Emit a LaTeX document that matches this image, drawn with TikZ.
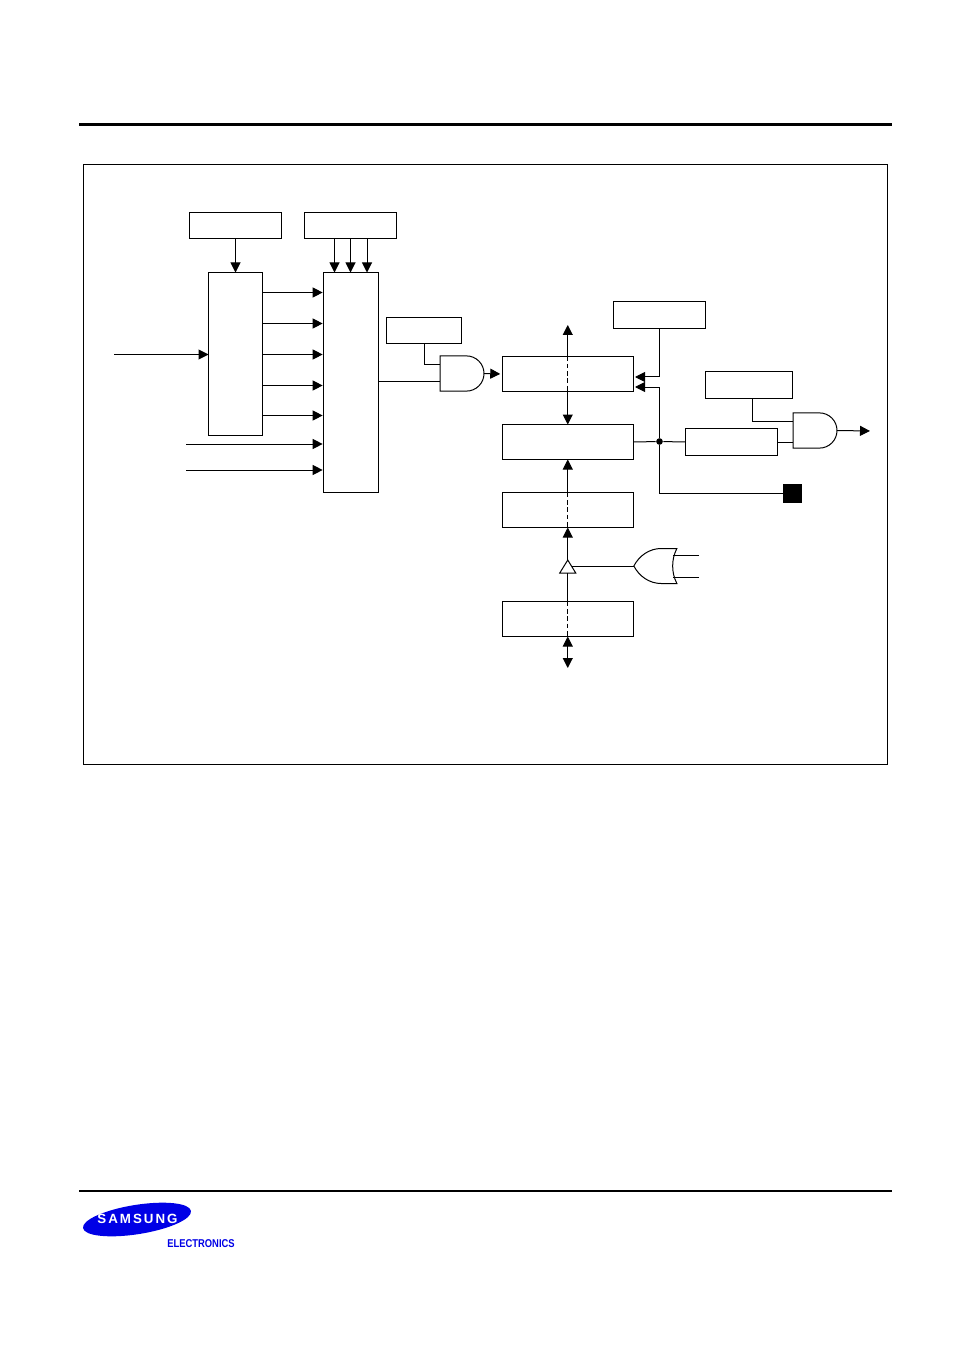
\documentclass[tikz,border=0pt]{standalone}
\usepackage{fontspec}
\usetikzlibrary{arrows.meta,shapes.geometric,shapes.gates.logic.US}
\newfontfamily\logofont[LetterSpace=15]{Liberation Sans}
\newfontfamily\elecfont{Liberation Sans}
\definecolor{logoblue}{RGB}{0,0,230}
\tikzset{
	box/.style={draw,rectangle,inner sep=0pt,outer sep=0pt},
	regbox/.style={box,minimum width=98.25pt,minimum height=26.25pt},
	smallbox/.style={box,minimum width=69pt,minimum height=20pt},
	gate/.style={draw,inner sep=0pt,outer sep=0pt,minimum width=33pt,minimum height=26.25pt,logic gate inputs=nn},
	tip/.style={shorten >=0.75pt},
	busdash/.style={dash pattern=on 3.5pt off 2pt}
}

\begin{document}
\begin{tikzpicture}[x=0.75pt,y=-0.75pt,line width=0.75pt,>={Triangle[length=7.5pt,width=7.5pt]}]
	\useasboundingbox (0,0) rectangle (954,1351);

	\draw[line width=2.25pt] (79,124.5) -- (892,124.5);
	\draw[line width=1.5pt] (79,1191) -- (892,1191);
	\node[box,minimum width=603.5pt,minimum height=450pt] (frame) at (485.5,464.5) {};

	\node[smallbox] (sel) at (235.5,225.5) {};
	\node[smallbox] (con) at (350.75,225.5) {};
	\node[box,minimum width=40.5pt,minimum height=122.25pt] (pre) at (235.5,354) {};
	\node[box,minimum width=41pt,minimum height=165pt] (mux) at (351,382.5) {};
	\node[box,minimum width=56pt,minimum height=20pt] (en) at (424,330.5) {};
	\node[regbox] (buf) at (567.75,374) {};
	\node[regbox] (cnt) at (567.75,442) {};
	\node[regbox] (cmp) at (567.75,510) {};
	\node[regbox] (dat) at (567.75,619) {};
	\node[smallbox] (ctl) at (659.5,315) {};
	\node[box,minimum width=65.25pt,minimum height=20pt] (oen) at (749,385) {};
	\node[smallbox] (ff) at (731.5,442) {};
	\node[box,fill=black,minimum width=13.5pt,minimum height=13.5pt] (pin) at (792.5,493.5) {};
	\node[circle,fill=black,inner sep=0pt,minimum size=5pt] (dot) at (659.5,441.5) {};

	\node[gate,and gate US,anchor=west] (andA) at (440,373.5) {};
	\node[gate,and gate US,anchor=west] (andB) at (793,430.5) {};
	\node[gate,or gate US,rotate=180,xscale=0.9] (orA) at (658.5,566) {};
	\node[draw,isosceles triangle,isosceles triangle stretches,shape border rotate=90,inner sep=0pt,outer sep=0pt,minimum width=12pt,minimum height=9.75pt,anchor=apex] (drv) at (567.75,560) {};

	\coordinate (clkin) at (114,354.5);
	\coordinate (extA) at (186,444);
	\coordinate (extB) at (186,470);
	\coordinate (buftop) at (567.75,325);
	\coordinate (datlow) at (567.75,668);
	\coordinate (bufinA) at (634,377);
	\coordinate (bufinB) at (634,387);
	\coordinate (oenout) at (752,399);
	\coordinate (outp) at (870,431);
	\coordinate (orinA) at (699,555);
	\coordinate (orinB) at (699,577);
	\coordinate (drvin) at (572,566);
	\coordinate (enin) at (440,365);
	\coordinate (muxin) at (440,382);
	\coordinate (oenin) at (793,421);
	\coordinate (ffin) at (793,442);

	\path[->] (sel) edge (pre);
	\foreach \x in {334.5,350.5,367}
		\path[->] (con.south -| \x,0) edge (mux.north -| \x,0);
	\foreach \y in {292.5,323.5,354.5,385.5,415.5}
		\path[->,tip] (pre.east |- 0,\y) edge (mux.west |- 0,\y);
	\path[->] (clkin) edge (pre.west |- clkin);
	\path[->,tip] (extA) edge (mux.west |- extA);
	\path[->,tip] (extB) edge (mux.west |- extB);

	\draw (en.south) |- (enin);
	\draw (mux.east |- muxin) -- (muxin);
	\draw[->,shorten >=1.5pt] (andA.output) -- (buf.west);

	\draw[->] (buf.north) -- (buftop);
	\draw[->] (buf.south) -- (cnt.north);
	\draw[busdash] (buf.north) -- (buf.south);
	\draw[->] (cmp.north) -- (cnt.south);
	\draw[busdash] (cmp.north) -- (cmp.south);
	\draw[->] (drv.apex) -- (cmp.south);
	\draw (dat.north) -- (drv.south);
	\draw[busdash] (dat.north) -- (dat.south);
	\draw[<->] (dat.south) -- (datlow);

	\draw[->,tip] (ctl.south) |- (bufinA);
	\draw[->,tip] (dot) |- (bufinB);
	\draw (cnt.east) -- (dot);
	\draw (dot) -- (ff.west);
	\draw (dot) |- (pin.west);
	\draw (ff.east) -- (ffin);
	\draw (oenout) |- (oenin);
	\draw[->] (andB.output) -- (outp);

	\draw (orA.output) -- (drvin);
	\draw (orinA) -- (orA.input 2 |- orinA);
	\draw (orinB) -- (orA.input 1 |- orinB);

	\node[ellipse,fill=logoblue,rotate=9,minimum width=82pt,minimum height=22pt,inner sep=0pt] (logo) at (137,1219.5) {};
	\node[text=white,font=\logofont\bfseries\fontsize{10}{10}\selectfont,inner sep=0pt] (brand) at (137.5,1219) {SAMSUNG};
	\node[text=logoblue,font=\elecfont\bfseries\fontsize{8.5}{9}\selectfont,inner sep=0pt,xscale=0.83] (elec) at (201,1243.5) {ELECTRONICS};
\end{tikzpicture}
\end{document}
